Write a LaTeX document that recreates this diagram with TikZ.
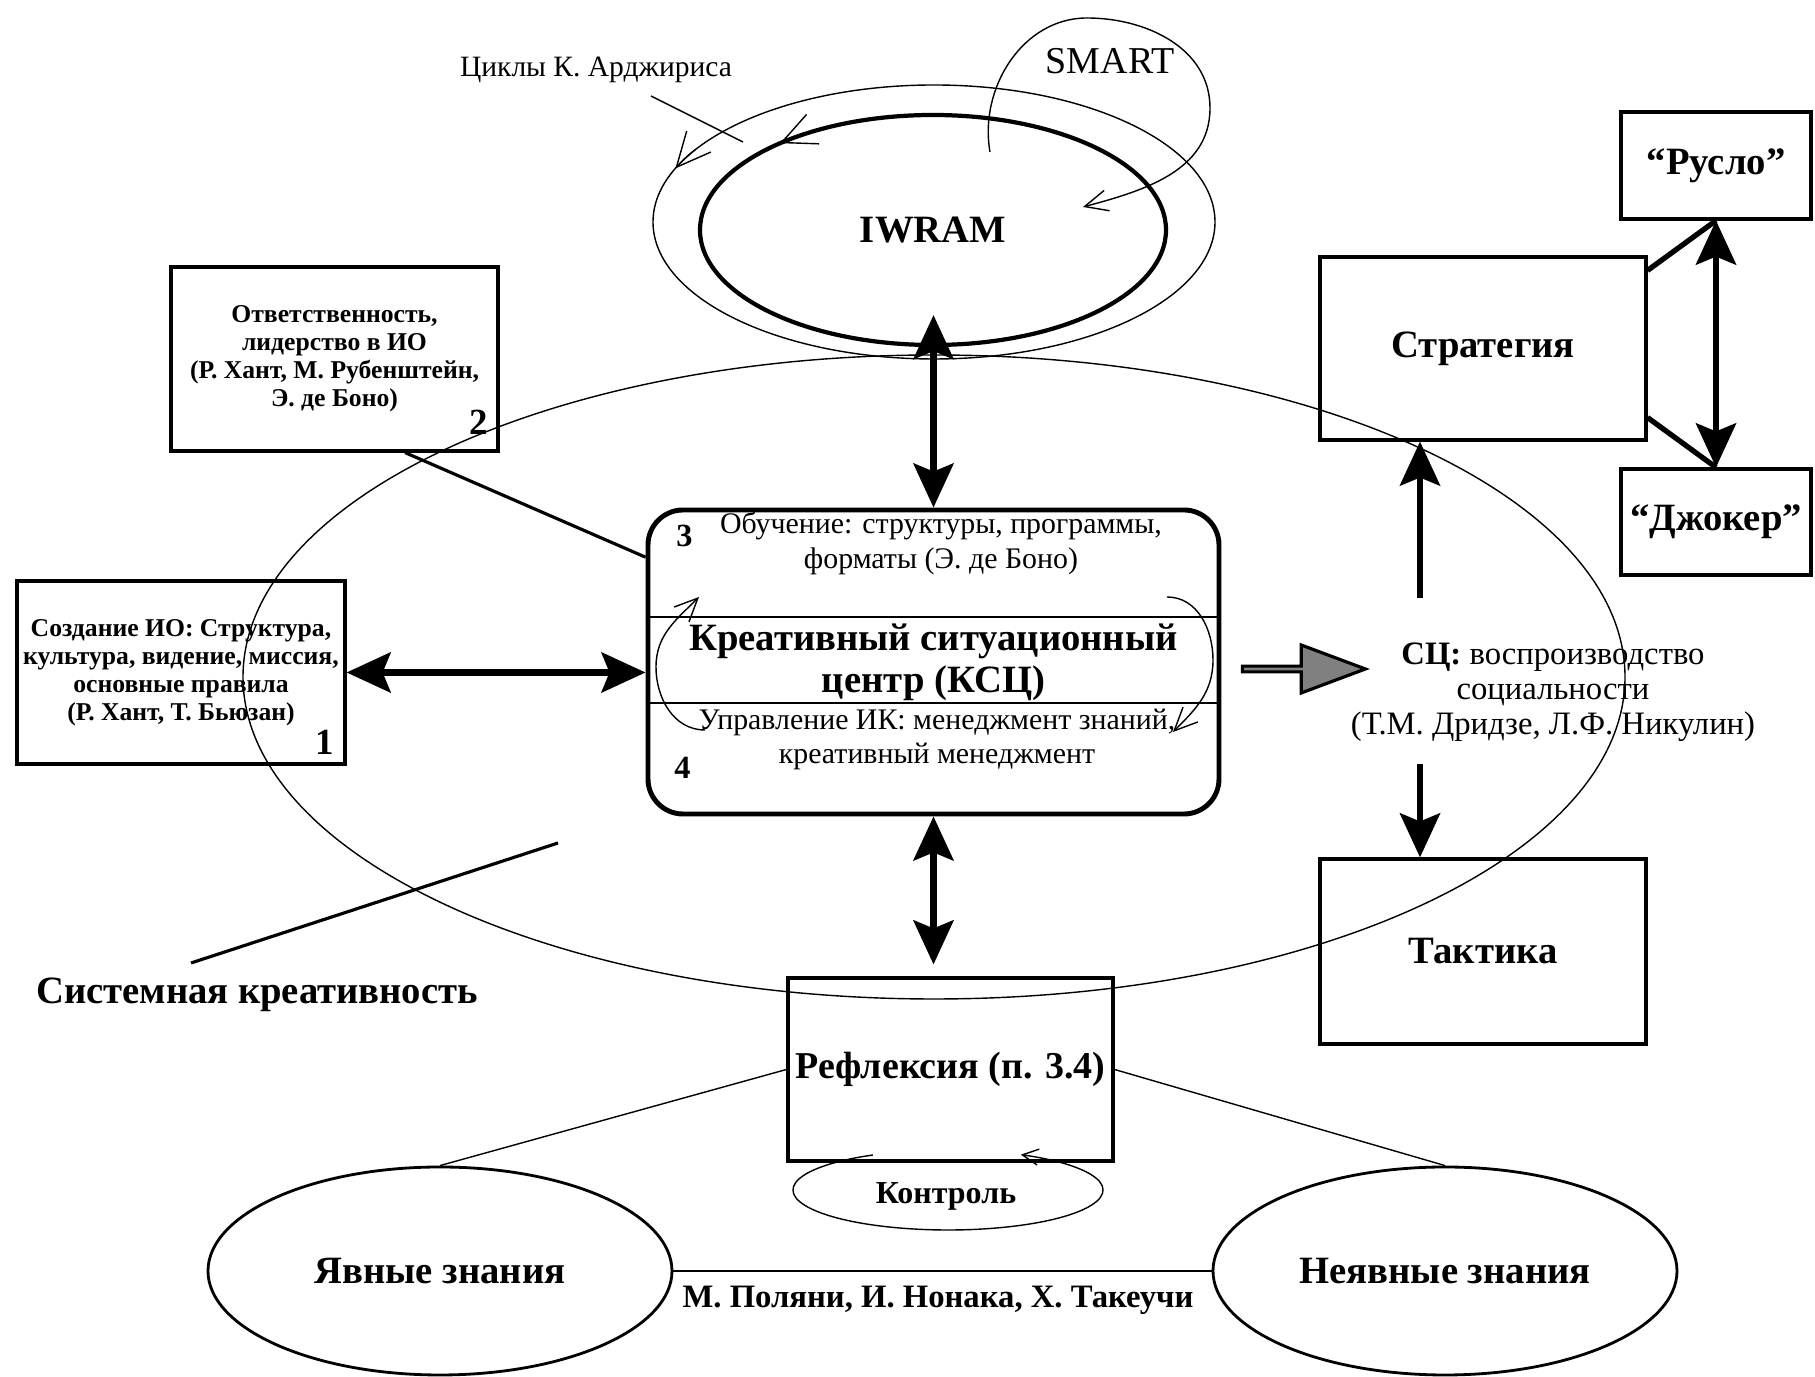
\documentclass[tikz,border=0pt]{standalone}
\usepackage{fontspec}
\setmainfont{Liberation Serif}
\usetikzlibrary{arrows.meta,shapes.geometric,shapes.arrows}
\newcommand{\fsz}[2]{\fontsize{#1}{#2}\selectfont}
\tikzset{
    box/.style={draw, rectangle, line width=0.9pt, align=center, inner sep=0pt},
    headtxt/.style={font=\fsz{11}{13}\bfseries},
    boxnote/.style={font=\fsz{7.3}{8}\bfseries, align=center},
    kscnote/.style={font=\fsz{8.5}{9.7}, align=center},
    numtxt/.style={font=\fsz{10.5}{12}\bfseries, inner sep=0pt},
    hairline/.style={line width=0.4pt},
    joinline/.style={line width=0.9pt},
    twoway/.style={<->, line width=1.8pt},
    oneway/.style={->, line width=1.8pt},
    cyc/.style={-{Straight Barb[length=3.4mm,width=3.2mm]}, line width=0.4pt},
    smallcyc/.style={-{Straight Barb[length=2.3mm,width=2.1mm]}, line width=0.4pt},
    tinycyc/.style={-{Straight Barb[length=1.6mm,width=1.6mm]}, line width=0.4pt}
}
\begin{document}
\begin{tikzpicture}[>={Stealth[length=4.4mm,width=4mm,inset=0.8mm]}]
\useasboundingbox (0,0) rectangle (18.15,13.77);

\coordinate (sysc) at (9.34,7.00);
\coordinate (argc) at (9.34,11.55);
\draw[hairline] (sysc) ellipse[x radius=6.91, y radius=3.22];
\draw[hairline] (argc) ellipse[x radius=2.81, y radius=1.37];

\node[ellipse, draw, line width=1.2pt, minimum width=4.66cm, minimum height=2.30cm, headtxt] (iwram) at (9.33,11.47) {IWRAM};
\node[font=\fsz{8.4}{10}] (argyris) at (5.96,13.07) {Циклы К. Арджириса};
\node[font=\fsz{10.8}{12}] (smart) at (11.10,13.16) {SMART};
\coordinate (argfoot) at (6.51,12.81);
\coordinate (argtip) at (7.43,12.35);
\draw[hairline] (argfoot) -- (argtip);
\draw[cyc] (argc) ++(148:2.81 and 1.37) arc[start angle=148, end angle=157, x radius=2.81cm, y radius=1.37cm];
\draw[cyc] (iwram.center) ++(122:2.33 and 1.15) arc[start angle=122, end angle=131, x radius=2.33cm, y radius=1.15cm];
\draw[smallcyc] (9.90,12.25) to[out=100,in=180] (10.87,13.59) to[out=0,in=90] (12.10,12.69) to[out=-90,in=15] (10.83,11.70);

\node[draw, rounded corners=3.5mm, line width=1.4pt, minimum width=5.71cm, minimum height=3.04cm] (ksc) at (9.335,7.15) {};
\draw[hairline] ([yshift=4.5mm]ksc.west) -- ([yshift=4.5mm]ksc.east);
\draw[hairline] ([yshift=-4.1mm]ksc.west) -- ([yshift=-4.1mm]ksc.east);
\node[kscnote] (learn) at ([xshift=0.75mm,yshift=11.85mm]ksc.center) {Обучение: структуры, программы,\\форматы (Э. де Боно)};
\node[font=\fsz{11}{12}\bfseries, align=center] (kscname) at (ksc.center) {Креативный ситуационный\\центр (КСЦ)};
\node[kscnote] (manage) at ([xshift=0.35mm,yshift=-7.75mm]ksc.center) {Управление ИК: менеджмент знаний,\\креативный менеджмент};
\node[numtxt, font=\fsz{9.2}{10}\bfseries] (n3) at ([xshift=3.9mm,yshift=-2.8mm]ksc.north west) {3};
\node[numtxt, font=\fsz{9.2}{10}\bfseries] (n4) at ([xshift=3.7mm,yshift=4.9mm]ksc.south west) {4};
\draw[smallcyc] (7.05,6.47) to[out=180,in=-90] (6.56,7.10) to[out=90,in=225] (6.99,7.80);
\draw[smallcyc] (11.67,7.80) to[out=0,in=90] (12.13,7.17) to[out=-90,in=45] (11.73,6.45);

\node[box, boxnote, minimum width=3.28cm, minimum height=1.83cm] (create) at (1.81,7.045) {Создание ИО: Структура,\\культура, видение, миссия,\\основные правила\\(Р. Хант, Т. Бьюзан)};
\node[numtxt, anchor=south east] (n1) at ([xshift=-1.2mm,yshift=1mm]create.south east) {1};
\node[box, boxnote, minimum width=3.27cm, minimum height=1.84cm] (resp) at (3.345,10.18) {Ответственность,\\лидерство в ИО\\(Р. Хант, М. Рубенштейн,\\Э. де Боно)};
\node[numtxt, anchor=south east] (n2) at ([xshift=-1.1mm,yshift=1.7mm]resp.south east) {2};

\node[box, headtxt, minimum width=3.26cm, minimum height=1.83cm] (strat) at (14.83,10.285) {Стратегия};
\node[box, headtxt, minimum width=1.90cm, minimum height=1.07cm] (ruslo) at (17.16,12.115) {“Русло”};
\node[box, headtxt, minimum width=1.90cm, minimum height=1.06cm] (joker) at (17.16,8.55) {“Джокер”};
\node[box, headtxt, minimum width=3.26cm, minimum height=1.85cm] (tactic) at (14.83,4.255) {Тактика};
\node[font=\fsz{9.3}{10}, align=center] (sc) at (15.53,6.85) {\textbf{СЦ:} воспроизводство\\социальности\\(Т.М. Дридзе, Л.Ф. Никулин)};
\coordinate (scup) at (14.20,7.79);
\coordinate (scdn) at (14.20,6.13);
\node[single arrow, draw, line width=0.9pt, fill=gray, minimum height=1.23cm, minimum width=0.48cm, single arrow head extend=0.115cm, single arrow tip angle=41, inner sep=0pt] (push) at (13.0,7.08) {};

\node[box, headtxt, font=\fsz{10.8}{13}\bfseries, minimum width=3.25cm, minimum height=1.83cm] (refl) at (9.505,3.075) {Рефлексия (п. 3.4)};
\coordinate (ctrlc) at (9.48,1.87);
\node[font=\fsz{9.1}{10}\bfseries] (ctrl) at (9.46,1.81) {Контроль};
\draw[tinycyc] (ctrlc) ++(119:1.55 and 0.40) arc[start angle=119, end angle=422, x radius=1.55cm, y radius=0.40cm];
\node[ellipse, draw, line width=0.8pt, minimum width=4.64cm, minimum height=2.08cm, headtxt] (yav) at (4.40,1.06) {Явные знания};
\node[ellipse, draw, line width=0.8pt, minimum width=4.64cm, minimum height=2.08cm, headtxt] (neyav) at (14.45,1.06) {Неявные знания};
\node[font=\fsz{9.3}{10}\bfseries] (authors) at (9.38,0.77) {М. Поляни, И. Нонака, Х. Такеучи};

\node[headtxt] (syslbl) at (2.57,3.82) {Системная креативность};
\coordinate (sysfoot) at (1.91,4.14);
\coordinate (systip) at (5.58,5.34);
\draw[joinline] (sysfoot) -- (systip);

\draw[twoway, shorten >=-3.2mm] (ksc.north) -- (ksc.north |- iwram.south);
\draw[twoway] (create.east) -- (create.east -| ksc.west);
\draw[joinline] (resp.-53) -- (ksc.160);
\draw[twoway, shorten >=1.2mm] (ksc.south) -- (ksc.south |- refl.north);
\draw[oneway] (scup) -- (scup |- strat.south);
\draw[oneway] (scdn) -- (scdn |- tactic.north);
\draw[line width=1.5pt] ([yshift=-1.5mm]strat.north east) -- (ruslo.south);
\draw[line width=1.5pt] ([yshift=2.4mm]strat.south east) -- (joker.north);
\draw[twoway] (ruslo.south) -- (joker.north);
\draw[hairline] (refl.west) -- (yav.north);
\draw[hairline] (refl.east) -- (neyav.north);
\draw[line width=0.6pt] (yav.east) -- (neyav.west);
\end{tikzpicture}
\end{document}
